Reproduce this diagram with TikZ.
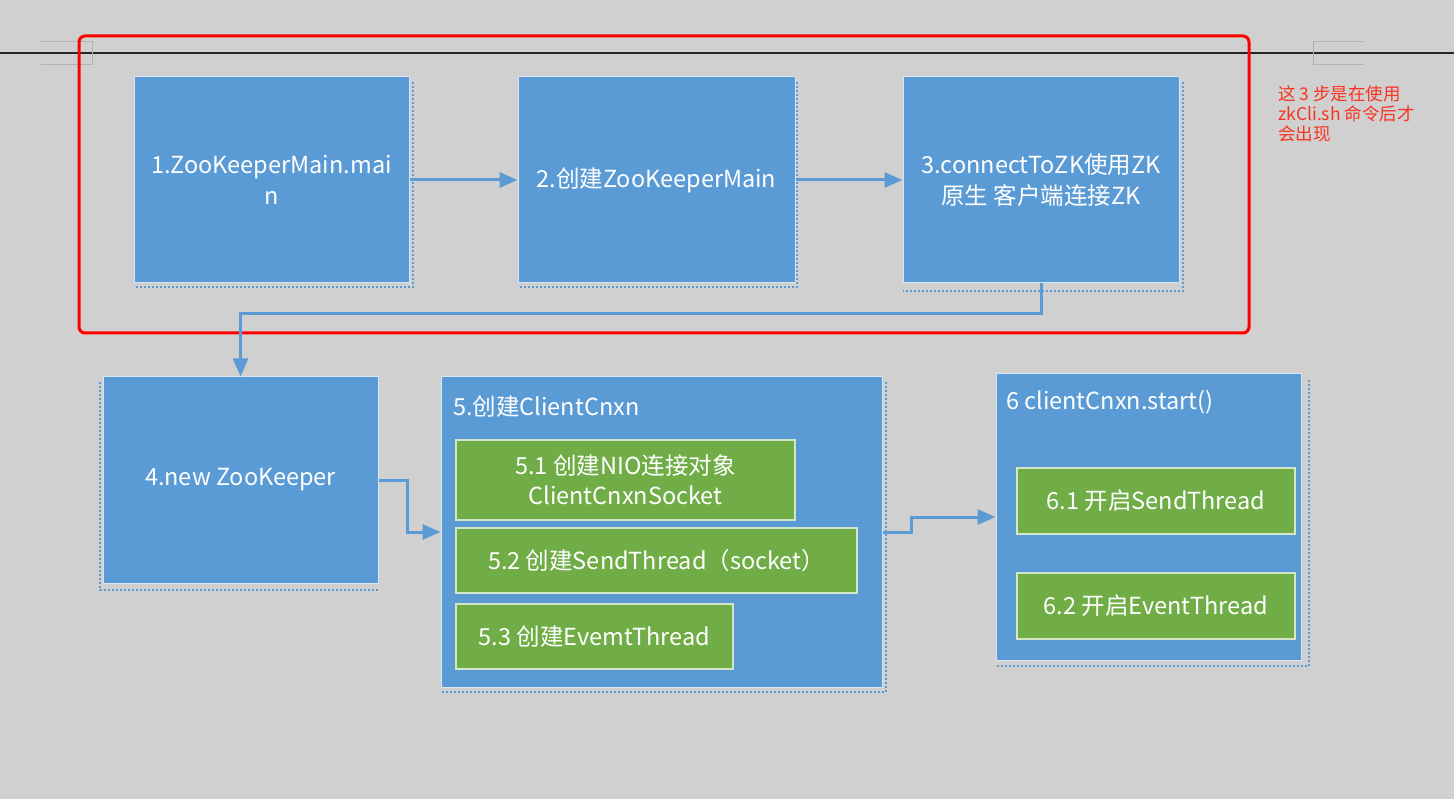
\documentclass[tikz,border=0pt]{standalone}
\usepackage{fontspec}
\setmainfont{Noto Sans CJK SC}
\usetikzlibrary{arrows.meta}
\definecolor{bg}{HTML}{D0D0D0}
\definecolor{boxblue}{HTML}{5B9BD5}
\definecolor{boxgreen}{HTML}{70AD47}
\definecolor{notered}{HTML}{F8331E}
\begin{document}
\begin{tikzpicture}[x=1pt,y=-1pt,
  bluebox/.style={draw=white!75!boxblue, fill=boxblue, line width=1pt, inner sep=0pt,
    text=white, align=center, font=\fontsize{23.5}{31}\selectfont},
  greenbox/.style={draw=white!70!boxgreen, fill=boxgreen, line width=1.5pt, inner sep=0pt,
    text=white, align=center, font=\fontsize{23.5}{30}\selectfont},
  flow/.style={draw=boxblue, line width=3pt, -{Triangle[length=18pt,width=15pt]}},
  shade/.style={boxblue, line width=2pt, dotted}]
\fill[bg] (0,0) rectangle (1454,799);
\useasboundingbox (0,0) rectangle (1454,799);

% page rule and crop marks
\draw[black!85, line width=2pt] (0,53) -- (1454,53);
\draw[black!30, line width=1pt] (41,42) -- (92,42) -- (92,65) -- (41,65);
\draw[black!30, line width=1pt] (1364,42) -- (1313,42) -- (1313,65) -- (1364,65);

% first three steps
\node[bluebox, minimum width=275, minimum height=206] (main) at (271.5,180) {1.ZooKeeperMain.mai\\n};
\node[bluebox, minimum width=277, minimum height=206] (create) at (656.5,180) {2.创建ZooKeeperMain};
\node[bluebox, minimum width=276, minimum height=206] (connect) at (1041,180) {3.connectToZK使用ZK\\原生 客户端连接ZK};
\draw[shade] (413,82) -- (413,287) -- (134,287);
\draw[shade] (797,82) -- (797,287) -- (518,287);
\draw[shade] (1183,82) -- (1183,291) -- (903,291);

\draw[red, line width=3pt, rounded corners=6] (79,36) rectangle (1249,333);
\node[notered, anchor=north west, align=left, inner sep=0pt,
  font=\fontsize{17.5}{20}\selectfont] (note) at (1278,85) {这 3 步是在使用\\zkCli.sh 命令后才\\会出现};

% second row
\node[bluebox, minimum width=275, minimum height=206] (zk) at (240.5,480) {4.new ZooKeeper};
\node[bluebox, minimum width=441, minimum height=310] (cnxn) at (661.5,532) {};
\node[anchor=west, text=white, font=\fontsize{23.5}{30}\selectfont, inner sep=0pt] (cnxntitle) at (453,407) {5.创建ClientCnxn};
\node[greenbox, minimum width=339, minimum height=80] (socket) at (625.5,480) {5.1 创建NIO连接对象\\ClientCnxnSocket};
\node[greenbox, minimum width=401, minimum height=65] (send) at (656.5,560.5) {5.2 创建SendThread（socket）};
\node[greenbox, minimum width=277, minimum height=65] (event) at (594.5,636.5) {5.3 创建EvemtThread};
\node[bluebox, minimum width=305, minimum height=286] (start) at (1148.5,517) {};
\node[anchor=west, text=white, font=\fontsize{23.5}{30}\selectfont, inner sep=0pt] (starttitle) at (1006,402) {6 clientCnxn.start()};
\node[greenbox, minimum width=278, minimum height=66] (sendstart) at (1156,501) {6.1 开启SendThread};
\node[greenbox, minimum width=278, minimum height=66] (eventstart) at (1156,606) {6.2 开启EventThread};
\draw[shade] (100,382) -- (100,590) -- (378,590);
\draw[shade] (886,382) -- (886,692) -- (441,692);
\draw[shade] (1309,380) -- (1309,666) -- (996,666);

% connectors
\draw[flow] (main) -- (create);
\draw[flow] (create) -- (connect);
\draw[flow] (connect.south) -- ++(0,30) -| (zk.north);
\draw[flow] (zk.east) -- ++(29,0) |- (cnxn.west);
\draw[flow] (cnxn.east) -- ++(29,0) |- (start.west);
\end{tikzpicture}
\end{document}
